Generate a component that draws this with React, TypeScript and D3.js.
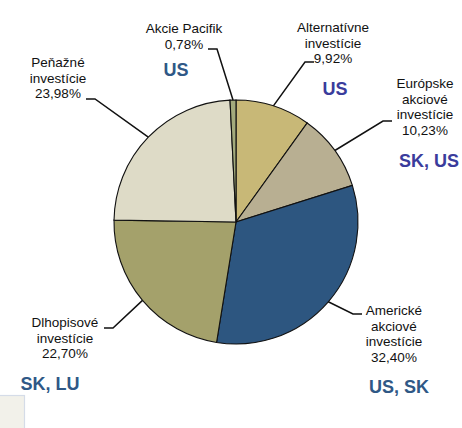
import React from "react";
import * as d3 from "d3";

const categories = [
  "Alternatívne investície",
  "Európske akciové investície",
  "Americké akciové investície",
  "Dlhopisové investície",
  "Peňažné investície",
  "Akcie Pacifik",
];
const values = [9.92, 10.23, 32.4, 22.7, 23.98, 0.78];
const labelLines = [
  ["Alternatívne", "investície", "9,92%"],
  ["Európske", "akciové", "investície", "10,23%"],
  ["Americké", "akciové", "investície", "32,40%"],
  ["Dlhopisové", "investície", "22,70%"],
  ["Peňažné", "investície", "23,98%"],
  ["Akcie Pacifik", "0,78%"],
];
const colors = ["#C8B877", "#B8AF92", "#2D5680", "#A4A16B", "#DEDBC7", "#A3AA7C"];
const countryTags = ["US", "SK, US", "US, SK", "SK, LU", "US", "US"];

// layout (not data)
const cx = 236, cy = 222, R = 122;
const labelPos = [
  { x: 333, y: 32, hx: 305, hy: 62, side: "right", tag: { x: 335, y: 95, c: "#3A3C9C" } },
  { x: 425, y: 88, hx: 383, hy: 121, side: "right", tag: { x: 429, y: 167, c: "#3A3C9C" } },
  { x: 394, y: 315, hx: 353, hy: 314, side: "right", tag: { x: 399, y: 393, c: "#2F5886" } },
  { x: 65, y: 327, hx: 104, hy: 328, side: "left", tag: { x: 50, y: 390, c: "#2F5886" } },
  { x: 58, y: 67, hx: 86, hy: 99, side: "left", tag: null },
  { x: 184, y: 33, hx: 208, hy: 49, side: "left", tag: { x: 176, y: 76, c: "#2F5886" } },
];

export default function App() {
  const pie = d3.pie<number>().sort(null).value((d) => d)(values);
  const arc = d3.arc<d3.PieArcDatum<number>>().innerRadius(0).outerRadius(R);
  const lineH = 15.7;
  return (
    <svg
      width={462}
      height={428}
      style={{ position: "absolute", left: 0, top: 0, display: "block" }}
    >
      <rect x={0} y={0} width={462} height={428} fill="#fff" />
      <rect x={-1} y={395.5} width={25.5} height={40} fill="#F2F1EA" stroke="#D5DCE8" strokeWidth={1.2} />
      <g transform={`translate(${cx},${cy})`}>
        {pie.map((p, i) => (
          <path key={categories[i]} d={arc(p) || ""} fill={colors[i]} stroke="#111" strokeWidth={1.1} />
        ))}
      </g>
      {pie.map((p, i) => {
        const mid = (p.startAngle + p.endAngle) / 2;
        const ax = cx + Math.sin(mid) * R;
        const ay = cy - Math.cos(mid) * R;
        const L = labelPos[i];
        const hx2 = L.hx + 9;
        const startX = L.side === "right" ? hx2 : L.hx;
        const endX = L.side === "right" ? L.hx : hx2;
        return (
          <g key={"l" + i}>
            <polyline
              points={`${startX},${L.hy} ${endX},${L.hy} ${ax},${ay}`}
              fill="none"
              stroke="#111"
              strokeWidth={1.5}
            />
            <text
              x={L.x}
              y={L.y}
              textAnchor="middle"
              fontFamily="Liberation Sans, Arial, sans-serif"
              fontSize={13.5}
              fill="#111"
            >
              {labelLines[i].map((t, j) => (
                <tspan key={j} x={L.x} y={L.y + j * lineH}>
                  {t}
                </tspan>
              ))}
            </text>
            {L.tag && (
              <text
                x={L.tag.x}
                y={L.tag.y}
                textAnchor="middle"
                fontFamily="Liberation Sans, Arial, sans-serif"
                fontWeight="bold"
                fontSize={18}
                fill={L.tag.c}
              >
                {countryTags[i]}
              </text>
            )}
          </g>
        );
      })}
    </svg>
  );
}
